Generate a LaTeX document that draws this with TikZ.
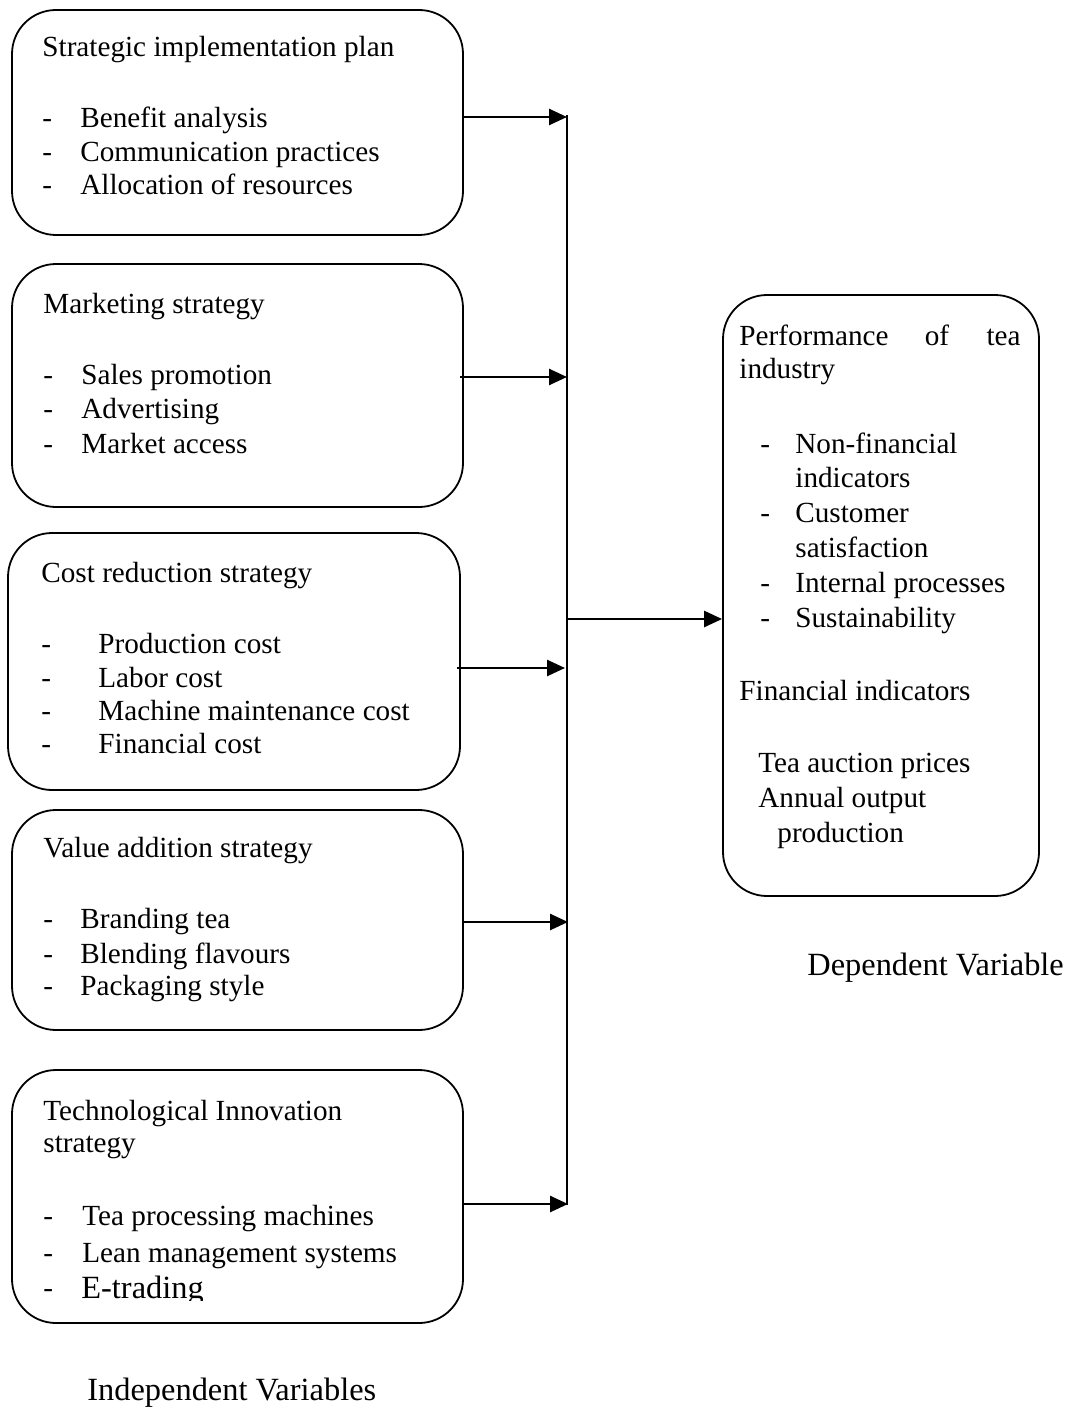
\documentclass[tikz,border=0pt]{standalone}
\usepackage{fontspec}
\setmainfont{Liberation Serif}
\usetikzlibrary{arrows.meta,fit}
\tikzset{
  txt/.style={anchor=base west,inner sep=0pt,font=\fontsize{14.6pt}{16.8pt}\selectfont},
  bigtxt/.style={txt,font=\fontsize{16.2pt}{18.6pt}\selectfont},
  txte/.style={txt,anchor=base east},
  txtc/.style={txt,anchor=base},
  box/.style={draw,line width=0.9pt,rounded corners=22pt,inner sep=0pt},
  arr/.style={line width=1.3pt,-{Triangle[length=9pt,width=8pt]}},
  vline/.style={line width=1pt}
}
\begin{document}
\begin{tikzpicture}[x=0.5pt,y=-0.5pt]
\useasboundingbox (0,0) rectangle (1072,1407);
% boxes
\node[box,fit={(12,10) (463,235)}] (b1) {};
\node[box,fit={(12,264) (463,507)}] (b2) {};
\node[box,fit={(8,533) (460,790)}] (b3) {};
\node[box,fit={(12,810) (463,1030)}] (b4) {};
\node[box,fit={(12,1070) (463,1323)}] (b5) {};
\node[box,fit={(723,295) (1039,896)}] (dv) {};
% box 1
\node[txt] (b1t) at (42,57) {Strategic implementation plan};
\node[txt] (b1d1) at (42,128) {-}; \node[txt] (b1i1) at (80,128) {Benefit analysis};
\node[txt] (b1d2) at (42,162) {-}; \node[txt] (b1i2) at (80,162) {Communication practices};
\node[txt] (b1d3) at (42,195) {-}; \node[txt] (b1i3) at (80,195) {Allocation of resources};
% box 2
\node[txt] (b2t) at (43,313) {Marketing strategy};
\node[txt] (b2d1) at (43,384) {-}; \node[txt] (b2i1) at (81,384) {Sales promotion};
\node[txt] (b2d2) at (43,418) {-}; \node[txt] (b2i2) at (81,418) {Advertising};
\node[txt] (b2d3) at (43,453) {-}; \node[txt] (b2i3) at (81,453) {Market access};
% box 3
\node[txt] (b3t) at (41,582) {Cost reduction strategy};
\node[txt] (b3d1) at (41,653) {-}; \node[txt] (b3i1) at (98,653) {Production cost};
\node[txt] (b3d2) at (41,687) {-}; \node[txt] (b3i2) at (98,687) {Labor cost};
\node[txt] (b3d3) at (41,720) {-}; \node[txt] (b3i3) at (98,720) {Machine maintenance cost};
\node[txt] (b3d4) at (41,753) {-}; \node[txt] (b3i4) at (98,753) {Financial cost};
% box 4
\node[txt] (b4t) at (43,857) {Value addition strategy};
\node[txt] (b4d1) at (43,928) {-}; \node[txt] (b4i1) at (80,928) {Branding tea};
\node[txt] (b4d2) at (43,963) {-}; \node[txt] (b4i2) at (80,963) {Blending flavours};
\node[txt] (b4d3) at (43,995) {-}; \node[txt] (b4i3) at (80,995) {Packaging style};
% box 5
\node[txt] (b5t1) at (43,1120) {Technological Innovation};
\node[txt] (b5t2) at (43,1152) {strategy};
\node[txt] (b5d1) at (43,1225) {-}; \node[txt] (b5i1) at (82,1225) {Tea processing machines};
\node[txt] (b5d2) at (43,1262) {-}; \node[txt] (b5i2) at (82,1262) {Lean management systems};
\node[txt] (b5d3) at (43,1297) {-};
\begin{scope}
\clip (60,1255) rectangle (300,1300);
\node[bigtxt] (b5i3) at (81,1298) {E-trading};
\end{scope}
% dependent box text
\node[txt] (p1) at (739,345) {Performance};
\node[txtc] (p2) at (937,345) {of};
\node[txte] (p3) at (1021,345) {tea};
\node[txt] (p4) at (739,378) {industry};
\node[txt] (dd1) at (760,453) {-}; \node[txt] (di1) at (795,453) {Non-financial};
\node[txt] (di1b) at (795,487) {indicators};
\node[txt] (dd2) at (760,522) {-}; \node[txt] (di2) at (795,522) {Customer};
\node[txt] (di2b) at (795,557) {satisfaction};
\node[txt] (dd3) at (760,592) {-}; \node[txt] (di3) at (795,592) {Internal processes};
\node[txt] (dd4) at (760,627) {-}; \node[txt] (di4) at (795,627) {Sustainability};
\node[txt] (fi) at (739,700) {Financial indicators};
\node[txt] (fi1) at (758,772) {Tea auction prices};
\node[txt] (fi2) at (758,807) {Annual output};
\node[txt] (fi3) at (777,842) {production};
% captions
\node[bigtxt] (depcap) at (807,975) {Dependent Variable};
\node[bigtxt] (indcap) at (87,1400) {Independent Variables};
% connectors
\coordinate (vt) at (567,115);
\coordinate (vb) at (567,1205);
\draw[vline] (vt) -- (vb);
\coordinate (v1) at (567,117);
\coordinate (v2) at (567,377);
\coordinate (v3) at (565,668);
\coordinate (v4) at (568,922);
\coordinate (v5) at (568,1204);
\coordinate (vm) at (567,619);
\draw[arr] (b1.east |- v1) -- (v1);
\draw[arr] (460,377) coordinate (s2) -- (v2);
\draw[arr] (457,668) coordinate (s3) -- (v3);
\draw[arr] (b4.east |- v4) -- (v4);
\draw[arr] (b5.east |- v5) -- (v5);
\draw[arr] (vm) -- (dv.west |- vm);
\end{tikzpicture}
\end{document}
